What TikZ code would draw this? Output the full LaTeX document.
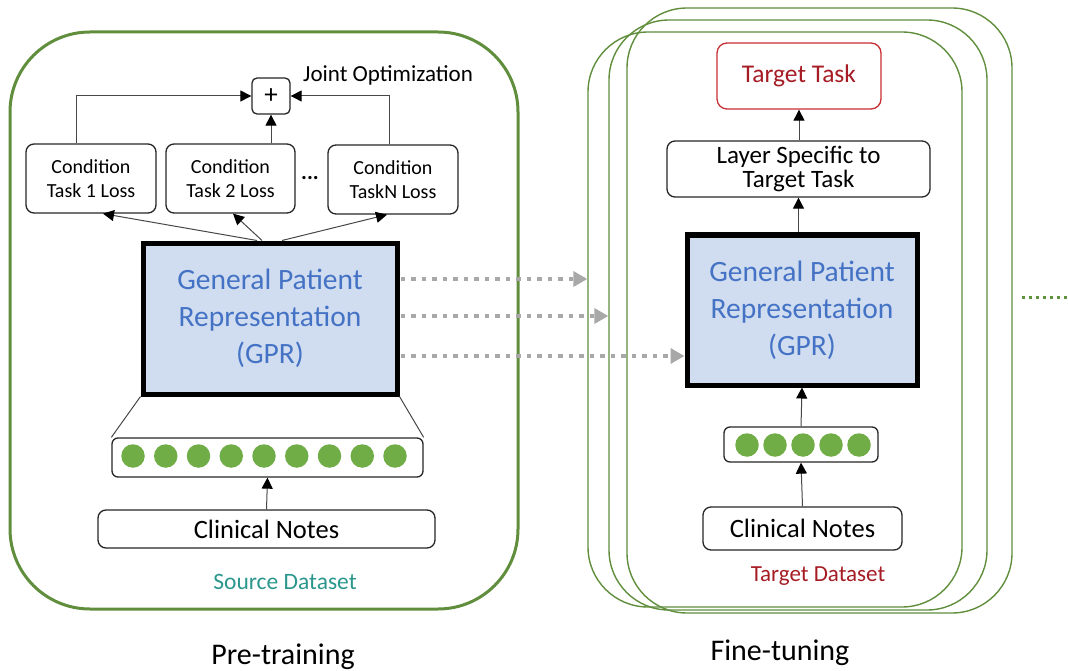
\documentclass[tikz,border=0pt]{standalone}
\usepackage{fontspec}
\setmainfont{Carlito}
\usetikzlibrary{arrows.meta,calc}
\definecolor{frameg}{RGB}{96,142,60}
\definecolor{dotg}{RGB}{112,173,71}
\definecolor{gprfill}{RGB}{208,220,239}
\definecolor{gprtext}{RGB}{68,114,196}
\definecolor{teal1}{RGB}{42,150,140}
\definecolor{tred}{RGB}{165,28,36}
\definecolor{tredb}{RGB}{200,45,50}
\definecolor{garrow}{RGB}{168,168,168}
\newcommand{\fs}[2]{\fontsize{#1}{#2}\selectfont}
\begin{document}
\begin{tikzpicture}[x=1pt,y=-1pt,
  box/.style={draw=black!85, line width=1.3pt, rounded corners=8pt, fill=white, align=center, inner sep=0pt},
  cond/.style={box, minimum width=130pt, minimum height=69pt, font=\fs{20}{24}},
  gpr/.style={draw=black, line width=5pt, fill=gprfill, text=gprtext, align=center, inner sep=0pt, font=\fs{29.5}{37}},
  emb/.style={box, rounded corners=6pt},
  ball/.style={circle, fill=dotg, minimum size=23.5pt, inner sep=0pt},
  card/.style={draw=frameg, line width=1.4pt, rounded corners=60pt, minimum width=#1},
  conn/.style={draw=black!72, line width=1pt},
  arr/.style={conn, -{Triangle[length=11pt,width=11pt,color=black]}},
  garr/.style={draw=garrow, line width=4.5pt, dash pattern=on 4.5pt off 6pt, -{Triangle[length=14pt,width=15pt]}},
  lbl/.style={inner sep=0pt}
]
\useasboundingbox (0,0) rectangle (1068,671);

% ---------------- Pre-training ----------------
\draw[frameg, line width=3pt, rounded corners=80pt] (10,32) rectangle (518,609);

\node[box, minimum width=38pt, minimum height=36pt, rounded corners=5pt, font=\fs{27}{28}] (plus) at (271,96) {+};
\node[lbl, anchor=west, font=\fs{23}{26}] (joint) at (303,75) {Joint Optimization};

\node[cond] (c1) at (91,178.5) {Condition\\Task 1 Loss};
\node[cond, minimum width=129pt] (c2) at (230.5,178.5) {Condition\\Task 2 Loss};
\node[cond] (c3) at (393,179.5) {Condition\\TaskN Loss};
\node[lbl, font=\fs{22}{24}] (dots) at (310,178) {\textbf{...}};

\node[gpr, minimum width=254pt, minimum height=151pt] (gprL) at (270,318.5) {General Patient\\Representation\\(GPR)};

\node[emb, minimum width=311pt, minimum height=39pt] (embL) at (267.5,457.5) {};
\foreach \i in {0,...,8} {
  \node[ball] (bl\i) at ({133+32.75*\i},456) {};
}
\node[box, minimum width=337pt, minimum height=38pt, font=\fs{26.5}{30}] (notesL) at (266.5,529) {Clinical Notes};
\node[lbl, text=teal1, font=\fs{23.5}{26}] (srcds) at (285,582) {Source Dataset};
\node[lbl, font=\fs{30}{34}] (pretrain) at (283,657) {Pre-training};

% connectors (left)
\draw[arr] ($(c1.north)+(-15,0)$) |- (plus.west);
\draw[arr] ($(c3.north)+(-4,0)$) |- (plus.east);
\draw[arr] (plus.south |- c2.north) -- (plus.south);
\draw[arr] ($(gprL.north)+(-13,0)$) -- ($(c1.south)+(12,0)$);
\draw[arr] ($(gprL.north)+(-8,0)$) -- ($(c2.south)+(2.5,0)$);
\draw[arr] ($(gprL.north)+(12,0)$) -- ($(c3.south)+(-6,0)$);
\draw[conn] (gprL.south west) -- (embL.north west);
\draw[conn] (gprL.south east) -- (embL.north east);
\draw[arr] (notesL.north) -- (embL.south);

% ---------------- Fine-tuning ----------------
\node[card=385pt, minimum height=605pt] (cardA) at (819.5,310.5) {};
\node[card=378pt, minimum height=590pt] (cardB) at (798,315) {};
\node[card=374pt, minimum height=575pt] (cardC) at (775,319.5) {};

\node[box, draw=tredb, minimum width=164pt, minimum height=66pt, rounded corners=10pt, text=tred, font=\fs{25.5}{28}] (target) at (799,76) {Target Task};
\node[box, minimum width=263pt, minimum height=56pt, font=\fs{25}{24}] (layer) at (798.5,169) {Layer Specific to\\Target Task};
\node[gpr, minimum width=230pt, minimum height=150pt] (gprR) at (802,310) {General Patient\\Representation\\(GPR)};
\node[emb, minimum width=154pt, minimum height=35pt] (embR) at (801,444.5) {};
\foreach \i in {0,...,4} {
  \node[ball] (br\i) at ({747+28*\i},445) {};
}
\node[box, minimum width=199pt, minimum height=43pt, font=\fs{26.5}{30}] (notesR) at (802.5,528.5) {Clinical Notes};
\node[lbl, text=tred, font=\fs{23}{26}] (tgtds) at (818,576) {Target Dataset};
\node[lbl, font=\fs{30}{34}] (finetune) at (780,653) {Fine-tuning};

\draw[arr] (layer.north -| target.south) -- (target.south);
\draw[arr] (gprR.north -| layer.south) -- (layer.south);
\draw[arr] (embR.north) -- (gprR.south);
\draw[arr] (notesR.north) -- (embR.south);

% transfer arrows
\coordinate (ya) at (0,279);
\coordinate (yb) at (0,316);
\coordinate (yc) at (0,356);
\draw[garr] ($(gprL.east |- ya)+(1,0)$) -- (cardC.west |- ya);
\draw[garr] ($(gprL.east |- yb)+(1,0)$) -- (cardB.west |- yb);
\draw[garr] ($(gprL.east |- yc)+(1,0)$) -- (gprR.west |- yc);

% continuation dots
\coordinate (dotA) at (1022,297);
\coordinate (dotB) at (1068,297);
\draw[dotg!85!black, line width=3pt, dash pattern=on 3pt off 4pt] (dotA) -- (dotB);
\end{tikzpicture}
\end{document}
